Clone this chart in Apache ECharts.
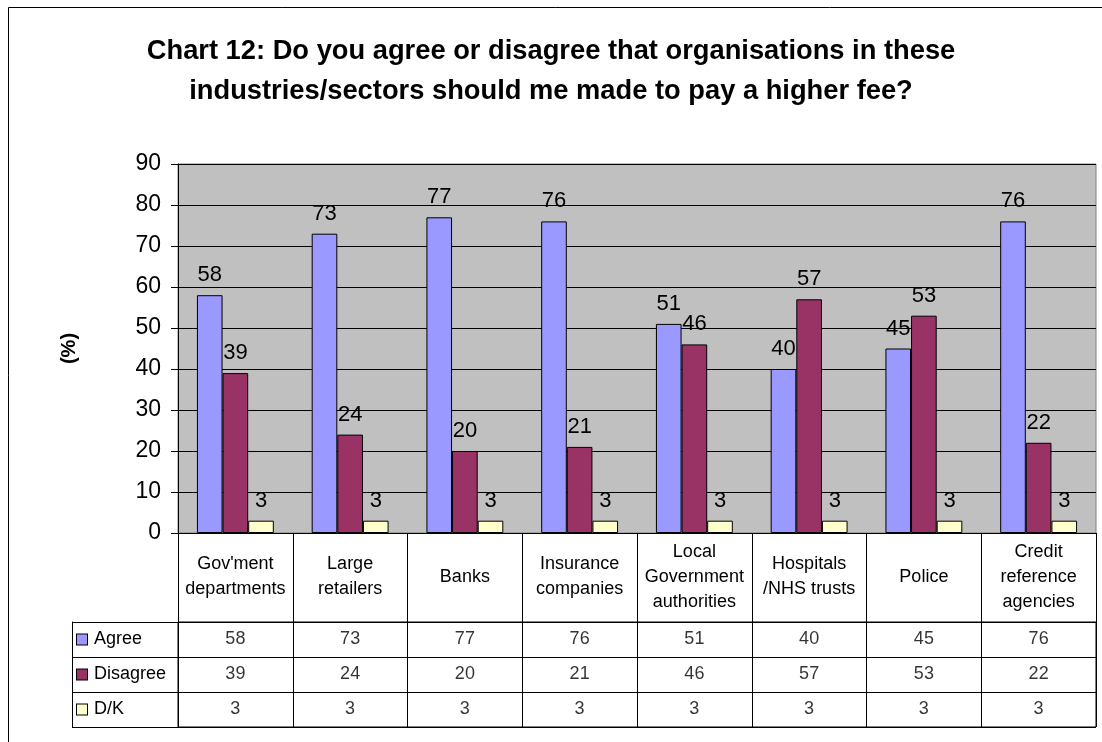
<!DOCTYPE html>
<html>
<head>
<meta charset="utf-8">
<script src="https://cdn.jsdelivr.net/npm/echarts@6/dist/echarts.min.js"></script>
<style>
html,body{margin:0;padding:0;background:#fff;}
#chart{width:1102px;height:742px;}
</style>
</head>
<body>
<div id="chart"></div>
<script>
const categories = ["Gov'ment\ndepartments", "Large\nretailers", "Banks", "Insurance\ncompanies", "Local\nGovernment\nauthorities", "Hospitals\n/NHS trusts", "Police", "Credit\nreference\nagencies"];
const seriesNames = ["Agree", "Disagree", "D/K"];
const agree = [58, 73, 77, 76, 51, 40, 45, 76];
const disagree = [39, 24, 20, 21, 46, 57, 53, 22];
const dk = [3, 3, 3, 3, 3, 3, 3, 3];
const yTicks = [0, 10, 20, 30, 40, 50, 60, 70, 80, 90];
const colors = ["#9999FF", "#993366", "#FFFFCC"];
const titleText = "Chart 12: Do you agree or disagree that organisations in these\nindustries/sectors should me made to pay a higher fee?";

const FONT = "'Liberation Sans', Arial, sans-serif";
const values = [agree, disagree, dk];

const tableData = [];
values.forEach((arr, r) => arr.forEach((v, c) => tableData.push([c, seriesNames[r], v])));

const richKeys = ['k0', 'k1', 'k2'];
const rich = {};
richKeys.forEach((k, i) => {
  rich[k] = {width: 10, height: 10, backgroundColor: colors[i], borderColor: '#000', borderWidth: 1};
});
rich.t = {fontSize: 18, fontFamily: FONT, color: '#000', padding: [0, 0, 0, 7]};

const chart = echarts.init(document.getElementById('chart'), null, {renderer: 'canvas'});
chart.setOption({
  animation: false,
  backgroundColor: '#fff',
  textStyle: {fontFamily: FONT},
  title: {
    text: titleText,
    left: 'center',
    top: 26,
    textStyle: {fontFamily: FONT, fontSize: 27.3, fontWeight: 'bold', color: '#000', lineHeight: 40}
  },
  graphic: [{
    type: 'rect', silent: true, z: -1,
    shape: {x: 8.5, y: 7.5, width: 1200, height: 1000},
    style: {fill: 'none', stroke: '#000', lineWidth: 1}
  }],
  grid: [
    {left: 178, right: 6, top: 164, bottom: 209, show: true, backgroundColor: '#C0C0C0', borderColor: '#808080', borderWidth: 1},
    {left: 178, right: 6, top: 622, bottom: 15, show: true, borderColor: '#000', borderWidth: 1}
  ],
  xAxis: [
    {
      type: 'category', gridIndex: 0, data: categories,
      axisLine: {show: true, lineStyle: {color: '#000', width: 1}},
      axisTick: {show: true, length: 89, interval: 0, lineStyle: {color: '#000'}},
      axisLabel: {interval: 0, fontSize: 18, lineHeight: 25, color: '#000', fontFamily: FONT, margin: 44, verticalAlign: 'middle'},
      splitLine: {show: false}
    },
    {
      type: 'category', gridIndex: 1, data: categories,
      axisLine: {show: false}, axisTick: {show: false}, axisLabel: {show: false},
      splitLine: {show: true, interval: 0, lineStyle: {color: '#000', width: 1}}
    }
  ],
  yAxis: [
    {
      type: 'value', gridIndex: 0, min: 0, max: 90, interval: 10,
      name: '(%)', nameLocation: 'middle', nameGap: 99,
      nameTextStyle: {fontSize: 20, fontWeight: 'bold', color: '#000', fontFamily: FONT},
      axisLine: {show: true, lineStyle: {color: '#000'}},
      axisTick: {show: true, length: 7, lineStyle: {color: '#000'}},
      axisLabel: {fontSize: 23, color: '#000', fontFamily: FONT, margin: 17,
        formatter: v => yTicks.includes(v) ? String(v) : ''},
      splitLine: {show: true, lineStyle: {color: '#000', width: 1}}
    },
    {
      type: 'category', gridIndex: 1, data: seriesNames, inverse: true,
      axisLine: {show: false},
      axisTick: {show: true, length: 106, interval: 0, lineStyle: {color: '#000'}},
      axisLabel: {
        interval: 0, align: 'left', margin: 101,
        formatter: (v) => { const i = seriesNames.indexOf(v); return '{' + richKeys[i] + '|}{t|' + v + '}'; },
        rich: rich
      },
      splitLine: {show: true, interval: 0, lineStyle: {color: '#000', width: 1}}
    },
    {
      type: 'category', gridIndex: 1, data: seriesNames, position: 'left', offset: 106,
      axisLine: {show: true, lineStyle: {color: '#000'}},
      axisTick: {show: false}, axisLabel: {show: false}, splitLine: {show: false}
    }
  ],
  series: [
    ...values.map((arr, i) => ({
      type: 'bar', name: seriesNames[i], xAxisIndex: 0, yAxisIndex: 0,
      data: arr, barGap: '0%', barCategoryGap: '33%',
      itemStyle: {color: colors[i], borderColor: '#000', borderWidth: 1},
      label: {show: true, position: 'top', distance: 9, fontSize: 22, color: '#000', fontFamily: FONT}
    })),
    {
      type: 'scatter', xAxisIndex: 1, yAxisIndex: 1, symbolSize: 0, silent: true,
      data: tableData,
      label: {show: true, position: 'inside', formatter: p => String(p.value[2]), fontSize: 18, color: '#000', fontFamily: FONT}
    }
  ]
});
</script>
</body>
</html>
